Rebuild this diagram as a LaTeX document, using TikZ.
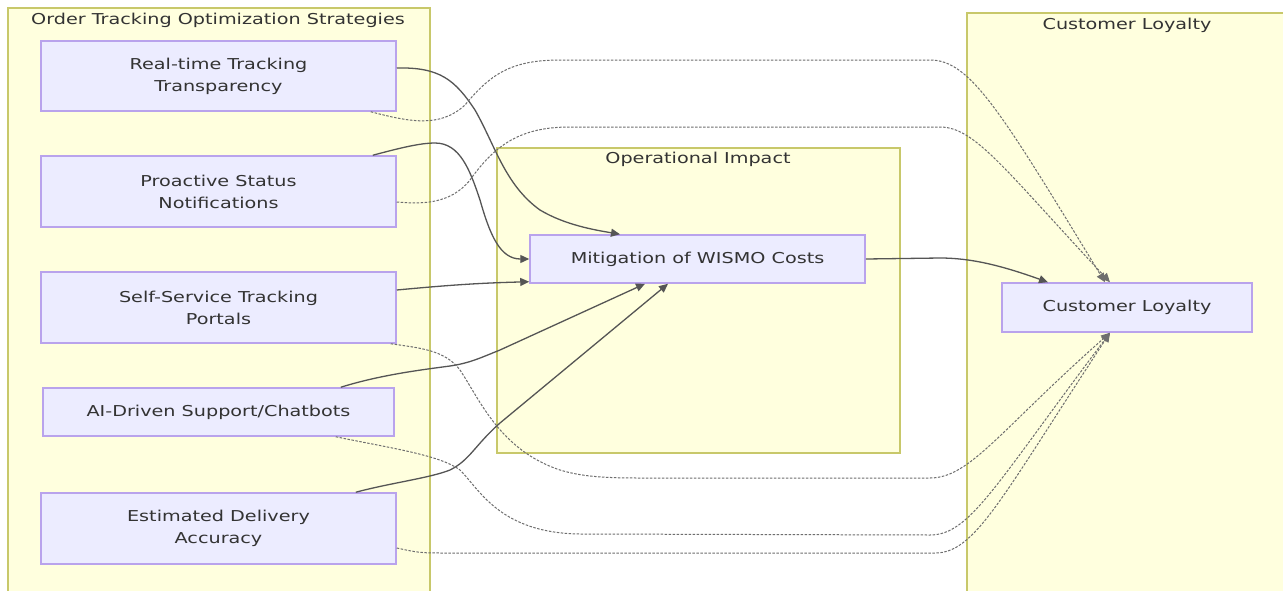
\documentclass[tikz,border=0pt]{standalone}
\usepackage{fontspec}
\setmainfont{DejaVu Sans}[FakeStretch=1.28]
\usetikzlibrary{arrows.meta}
\definecolor{clfill}{HTML}{FFFFDE}
\definecolor{clline}{HTML}{C8C86A}
\definecolor{ndfill}{HTML}{ECECFF}
\definecolor{ndline}{HTML}{B9A3EC}
\definecolor{edgecol}{HTML}{555555}
\definecolor{txt}{HTML}{333333}
\begin{document}
\begin{tikzpicture}[x=1pt,y=-1pt,
 cluster/.style={draw=clline, fill=clfill, line width=2pt, inner sep=0pt},
 box/.style={draw=ndline, fill=ndfill, line width=1.5pt, align=center, text=txt, font=\fontsize{15}{22}\selectfont, inner sep=0pt},
 ctitle/.style={text=txt, font=\fontsize{15}{18}\selectfont, inner sep=0pt},
 solidedge/.style={draw=edgecol, line width=1.3pt, -{Triangle[length=9pt,width=8pt]}},
 dotedge/.style={draw=edgecol!85, line width=1pt, dash pattern=on 2.5pt off 1.5pt, -{Triangle[length=9pt,width=8pt]}},
]
\useasboundingbox (0,0) rectangle (1283,590);
\clip (0,0) rectangle (1283,590);
\fill[white] (0,0) rectangle (1283,590);
% clusters
\node[cluster, minimum width=422pt, minimum height=592pt] (c1) at (219,304) {};
\node[cluster, minimum width=403pt, minimum height=305pt] (c2) at (698.5,300.5) {};
\node[cluster, minimum width=330pt, minimum height=590pt] (c3) at (1132,308) {};
\node[ctitle] (t1) at (218,20) {Order Tracking Optimization Strategies};
\node[ctitle] (t2) at (698,159) {Operational Impact};
\node[ctitle] (t3) at (1127,25) {Customer Loyalty};
% nodes
\node[box, minimum width=355pt, minimum height=70pt] (rt) at (218.5,76) {Real-time Tracking\\Transparency};
\node[box, minimum width=355pt, minimum height=71pt] (psn) at (218.5,191.5) {Proactive Status\\Notifications};
\node[box, minimum width=355pt, minimum height=71pt] (ssp) at (218.5,307.5) {Self-Service Tracking\\Portals};
\node[box, minimum width=351pt, minimum height=48pt] (ai) at (218.5,412) {AI-Driven Support/Chatbots};
\node[box, minimum width=355pt, minimum height=71pt] (eda) at (218.5,528.5) {Estimated Delivery\\Accuracy};
\node[box, minimum width=335pt, minimum height=48pt] (mit) at (697.5,259) {Mitigation of WISMO Costs};
\node[box, minimum width=250pt, minimum height=49pt] (cl) at (1127,307.5) {Customer Loyalty};
% solid edges
\draw[solidedge] ([yshift=8pt]rt.east) .. controls (440,67) and (455,80) .. (475,110) .. controls (495,145) and (505,185) .. (540,210) .. controls (565,225) and (595,230) .. ([xshift=-77.5pt]mit.north);
\draw[solidedge] ([xshift=-24pt]psn.north east) .. controls (400,148) and (420,143) .. (435,143) .. controls (460,143) and (470,170) .. (480,200) .. controls (490,235) and (500,259) .. (mit.west);
\draw[solidedge] ([yshift=17.5pt]ssp.east) .. controls (450,285) and (480,283) .. ([yshift=2pt]mit.south west);
\draw[solidedge] ([xshift=-54pt]ai.north east) .. controls (380,375) and (420,370) .. (450,366) .. controls (470,363) and (480,358) .. (500,350) -- ([xshift=-52.5pt]mit.south);
\draw[solidedge] ([xshift=-41pt]eda.north east) .. controls (390,483) and (430,478) .. (450,470) .. controls (470,460) and (475,445) .. (500,423) -- ([xshift=-29.5pt]mit.south);
\draw[solidedge] (mit.east) -- (940,258) .. controls (970,258) and (1000,265) .. ([xshift=-79pt]cl.north);
% dotted edges
\draw[dotedge] ([xshift=-26pt]rt.south east) .. controls (410,122) and (440,128) .. (465,105) .. controls (490,75) and (510,60) .. (560,60) -- (930,60) .. controls (970,60) and (1000,110) .. ([xshift=-22pt]cl.north);
\draw[dotedge] ([yshift=-10.5pt]psn.east) .. controls (420,204) and (450,205) .. (470,180) .. controls (495,145) and (520,127) .. (570,127) -- (940,127) .. controls (975,127) and (1005,170) .. ([xshift=-17pt]cl.north);
\draw[dotedge] ([xshift=-6pt]ssp.south east) .. controls (420,348) and (445,350) .. (460,370) .. controls (480,400) and (500,450) .. (560,470) .. controls (580,476) and (600,478) .. (640,478) -- (930,478) .. controls (970,478) and (1000,430) .. ([xshift=-17pt]cl.south);
\draw[dotedge] ([xshift=-59pt]ai.south east) .. controls (390,448) and (440,455) .. (460,470) .. controls (480,490) and (500,533) .. (580,534) -- (930,535) .. controls (970,535) and (995,485) .. ([xshift=-17pt]cl.south);
\draw[dotedge] ([yshift=-19.5pt]eda.east) .. controls (420,553) .. (450,553) -- (935,553) .. controls (975,553) and (1000,500) .. ([xshift=-17pt]cl.south);
\end{tikzpicture}
\end{document}
